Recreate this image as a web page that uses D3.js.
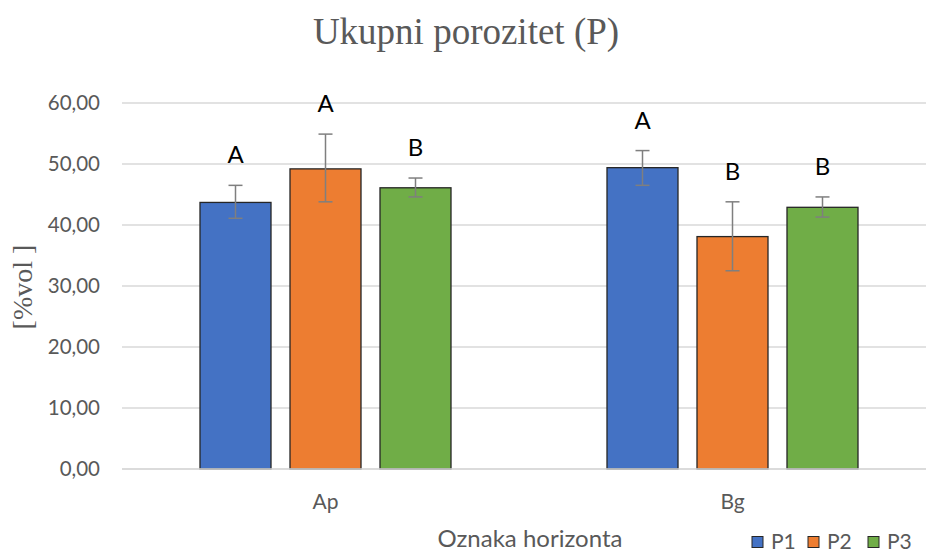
<!DOCTYPE html>
<html><head><meta charset="utf-8">
<script src="https://cdn.jsdelivr.net/npm/d3@7"></script>
<style>body{margin:0;background:#fff}</style>
</head><body>
<svg id="c" width="926" height="552"></svg>
<script>
const categories = ["Ap", "Bg"];
const seriesNames = ["P1", "P2", "P3"];
const colors = ["#4472C4", "#ED7D31", "#70AD47"];
const valuesP1 = [43.7, 49.4];
const valuesP2 = [49.2, 38.1];
const valuesP3 = [46.1, 42.9];
const errLowP1 = [41.1, 46.5];
const errHighP1 = [46.5, 52.2];
const errLowP2 = [43.8, 32.5];
const errHighP2 = [54.9, 43.8];
const errLowP3 = [44.6, 41.3];
const errHighP3 = [47.7, 44.6];
const lettersP1 = ["A", "A"];
const lettersP2 = ["A", "B"];
const lettersP3 = ["B", "B"];
const yTicks = [0, 10, 20, 30, 40, 50, 60];

(function(){
const series = [
  {name: "P1", values: valuesP1, lo: errLowP1, hi: errHighP1, letters: lettersP1},
  {name: "P2", values: valuesP2, lo: errLowP2, hi: errHighP2, letters: lettersP2},
  {name: "P3", values: valuesP3, lo: errLowP3, hi: errHighP3, letters: lettersP3}
];

const svg = d3.select("#c");
const pL = 122, pR = 936, pT = 103, pB = 469;
const x0 = d3.scaleBand().domain(categories).range([pL, pR]).paddingInner(0).paddingOuter(0);
const y = d3.scaleLinear().domain([0, 60]).range([pB, pT]);
const barW = 71, gap = 19;
const x1 = d3.scaleBand().domain(seriesNames).range([-(barW*1.5+gap), barW*1.5+gap]).paddingInner(gap/(barW+gap)).paddingOuter(0);

const sans = "Lato, 'Open Sans', sans-serif";
const serif = "'Liberation Serif', 'DejaVu Serif', serif";

svg.append("g").selectAll("line").data(yTicks).join("line")
  .attr("x1", pL).attr("x2", 926)
  .attr("y1", d => y(d)).attr("y2", d => y(d))
  .attr("stroke", "#d9d9d9").attr("stroke-width", 1.3);

svg.append("g").selectAll("text").data(yTicks).join("text")
  .attr("x", 100).attr("y", d => y(d)).attr("dy", "0.36em")
  .attr("text-anchor", "end")
  .attr("font-family", sans).attr("font-size", 20.5).attr("fill", "#595959")
  .text(d => d3.format(".2f")(d).replace(".", ","));

categories.forEach((cat, ci) => {
  series.forEach((s, si) => {
    const cx = x0(cat) + x0.bandwidth()/2 + x1(s.name);
    svg.append("rect")
      .attr("x", cx).attr("y", y(s.values[ci]))
      .attr("width", x1.bandwidth()).attr("height", y(0) - y(s.values[ci]))
      .attr("fill", colors[si]).attr("stroke", "#262626").attr("stroke-width", 1.3);
  });
});
categories.forEach((cat, ci) => {
  series.forEach((s, si) => {
    const mx = x0(cat) + x0.bandwidth()/2 + x1(s.name) + x1.bandwidth()/2;
    const g = svg.append("g").attr("stroke", "#7f7f7f").attr("stroke-width", 1.5);
    g.append("line").attr("x1", mx).attr("x2", mx).attr("y1", y(s.lo[ci])).attr("y2", y(s.hi[ci]));
    g.append("line").attr("x1", mx-7).attr("x2", mx+7).attr("y1", y(s.lo[ci])).attr("y2", y(s.lo[ci]));
    g.append("line").attr("x1", mx-7).attr("x2", mx+7).attr("y1", y(s.hi[ci])).attr("y2", y(s.hi[ci]));
    svg.append("text").attr("x", mx).attr("y", y(s.hi[ci]) - 22)
      .attr("text-anchor", "middle").attr("font-family", sans).attr("font-size", 24)
      .attr("fill", "#000").text(s.letters[ci]);
  });
});

svg.append("line").attr("x1", pL).attr("x2", 926).attr("y1", pB).attr("y2", pB)
  .attr("stroke", "#d9d9d9").attr("stroke-width", 1.3);

svg.append("g").selectAll("text").data(categories).join("text")
  .attr("x", d => x0(d) + x0.bandwidth()/2).attr("y", 509)
  .attr("text-anchor", "middle").attr("font-family", sans).attr("font-size", 21).attr("fill", "#595959")
  .text(d => d);

svg.append("text").attr("x", 466).attr("y", 44).attr("text-anchor", "middle")
  .attr("font-family", serif).attr("font-size", 37).attr("fill", "#595959")
  .text("Ukupni porozitet (P)");

svg.append("text").attr("transform", "translate(32,287) rotate(-90)").attr("text-anchor", "middle")
  .attr("font-family", serif).attr("font-size", 28).attr("fill", "#595959")
  .text("[%vol ]");

svg.append("text").attr("x", 530).attr("y", 547).attr("text-anchor", "middle")
  .attr("font-family", sans).attr("font-size", 24).attr("fill", "#595959")
  .text("Oznaka horizonta");

const legX = [752, 808, 868];
const leg = svg.append("g").selectAll("g").data(seriesNames).join("g")
  .attr("transform", (d, i) => `translate(${legX[i]},0)`);
leg.append("rect").attr("x", 0).attr("y", 536.5).attr("width", 11).attr("height", 11)
  .attr("fill", (d, i) => colors[i]).attr("stroke", "#262626").attr("stroke-width", 1);
leg.append("text").attr("x", 19).attr("y", 549).attr("font-family", sans).attr("font-size", 21)
  .attr("fill", "#595959").text(d => d);
})();
</script>
</body></html>
